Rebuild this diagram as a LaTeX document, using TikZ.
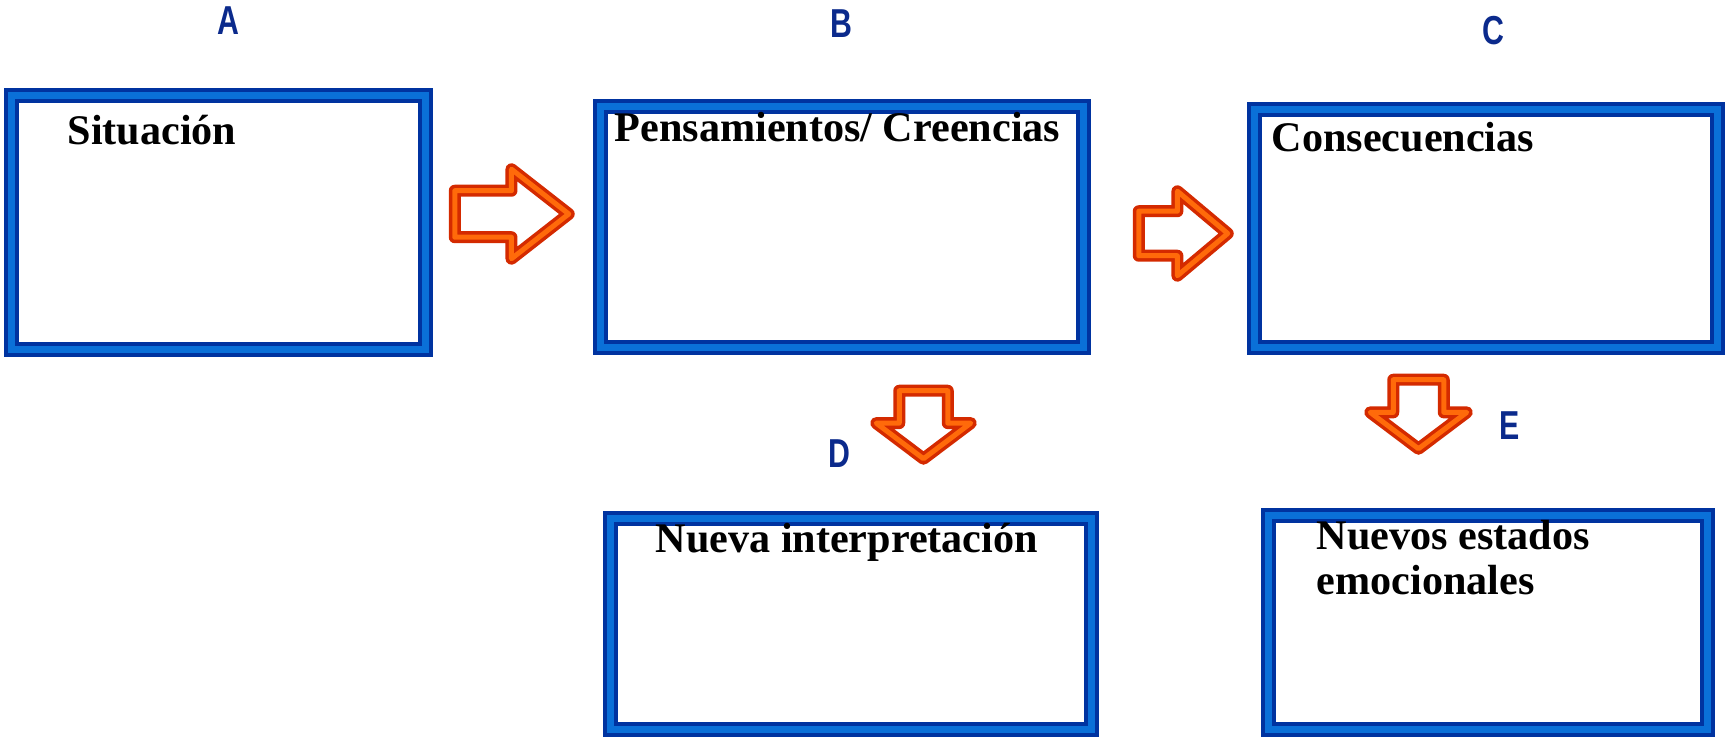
\documentclass[tikz,border=0pt]{standalone}
\usepackage{fontspec}
\setmainfont{Liberation Serif}
\newfontfamily\letrafont[FakeStretch=0.75]{Liberation Sans}
\usepackage{tikz}
\usetikzlibrary{shapes.arrows}
\definecolor{bordeosc}{HTML}{0033A0}
\definecolor{bordeclaro}{HTML}{0A70D8}
\definecolor{flechaosc}{HTML}{D42A00}
\definecolor{flechaclaro}{HTML}{FF6A0A}
\definecolor{letraazul}{HTML}{0B2A8C}
\tikzset{
    caja/.style={draw=bordeosc, line width=0.04cm, double=bordeclaro, double distance=0.07cm, fill=white, inner sep=0pt},
    flecha/.style={single arrow, anchor=tail, draw=flechaosc, line width=0.035cm, double=flechaclaro, double distance=0.05cm, fill=white, line join=round},
    letra/.style={text=letraazul, inner sep=0pt, font=\letrafont\bfseries\fontsize{11.5}{13}\selectfont},
    titulo/.style={anchor=base west, inner sep=0pt, font=\bfseries\fontsize{12}{12.8}\selectfont}
}

\begin{document}
\begin{tikzpicture}
    \useasboundingbox (0, 0) rectangle (17.25, 7.37);
    \node[caja, minimum width=4.14cm, minimum height=2.54cm] (situacion) at (2.185, 5.145) {};
    \node[caja, minimum width=4.83cm, minimum height=2.41cm] (pensamientos) at (8.42, 5.10) {};
    \node[caja, minimum width=4.63cm, minimum height=2.38cm] (consecuencias) at (14.86, 5.085) {};
    \node[caja, minimum width=4.81cm, minimum height=2.11cm] (interpretacion) at (8.51, 1.13) {};
    \node[caja, minimum width=4.39cm, minimum height=2.14cm] (estados) at (14.88, 1.145) {};
    \node[flecha, inner xsep=0pt, inner ysep=0.215cm, minimum height=1.14cm, minimum width=0.86cm, single arrow head extend=0.215cm, single arrow tip angle=76] (f1) at (4.53, 5.23) {};
    \node[flecha, inner xsep=0pt, inner ysep=0.205cm, minimum height=0.89cm, minimum width=0.81cm, single arrow head extend=0.20cm, single arrow tip angle=80] (f2) at (11.37, 5.035) {};
    \node[flecha, shape border rotate=270, inner xsep=0.225cm, inner ysep=0pt, minimum height=0.68cm, minimum width=0.91cm, single arrow head extend=0.23cm, single arrow tip angle=106] (f3) at (9.235, 3.48) {};
    \node[flecha, shape border rotate=270, inner xsep=0.235cm, inner ysep=0pt, minimum height=0.69cm, minimum width=0.93cm, single arrow head extend=0.23cm, single arrow tip angle=106] (f4) at (14.185, 3.59) {};
    \node[titulo] (tsit) at (0.67, 5.92) {Situación};
    \node[titulo] (tpen) at (6.14, 5.95) {Pensamientos/ Creencias};
    \node[titulo] (tcon) at (12.71, 5.85) {Consecuencias};
    \node[titulo] (tint) at (6.55, 1.84) {Nueva interpretación};
    \node[titulo] (test1) at (13.16, 1.87) {Nuevos estados};
    \node[titulo] (test2) at (13.16, 1.42) {emocionales};
    \node[letra] (la) at (2.28, 7.16) {A};
    \node[letra] (lb) at (8.415, 7.13) {B};
    \node[letra] (lc) at (14.93, 7.06) {C};
    \node[letra] (ld) at (8.39, 2.83) {D};
    \node[letra] (le) at (15.10, 3.11) {E};
\end{tikzpicture}
\end{document}
